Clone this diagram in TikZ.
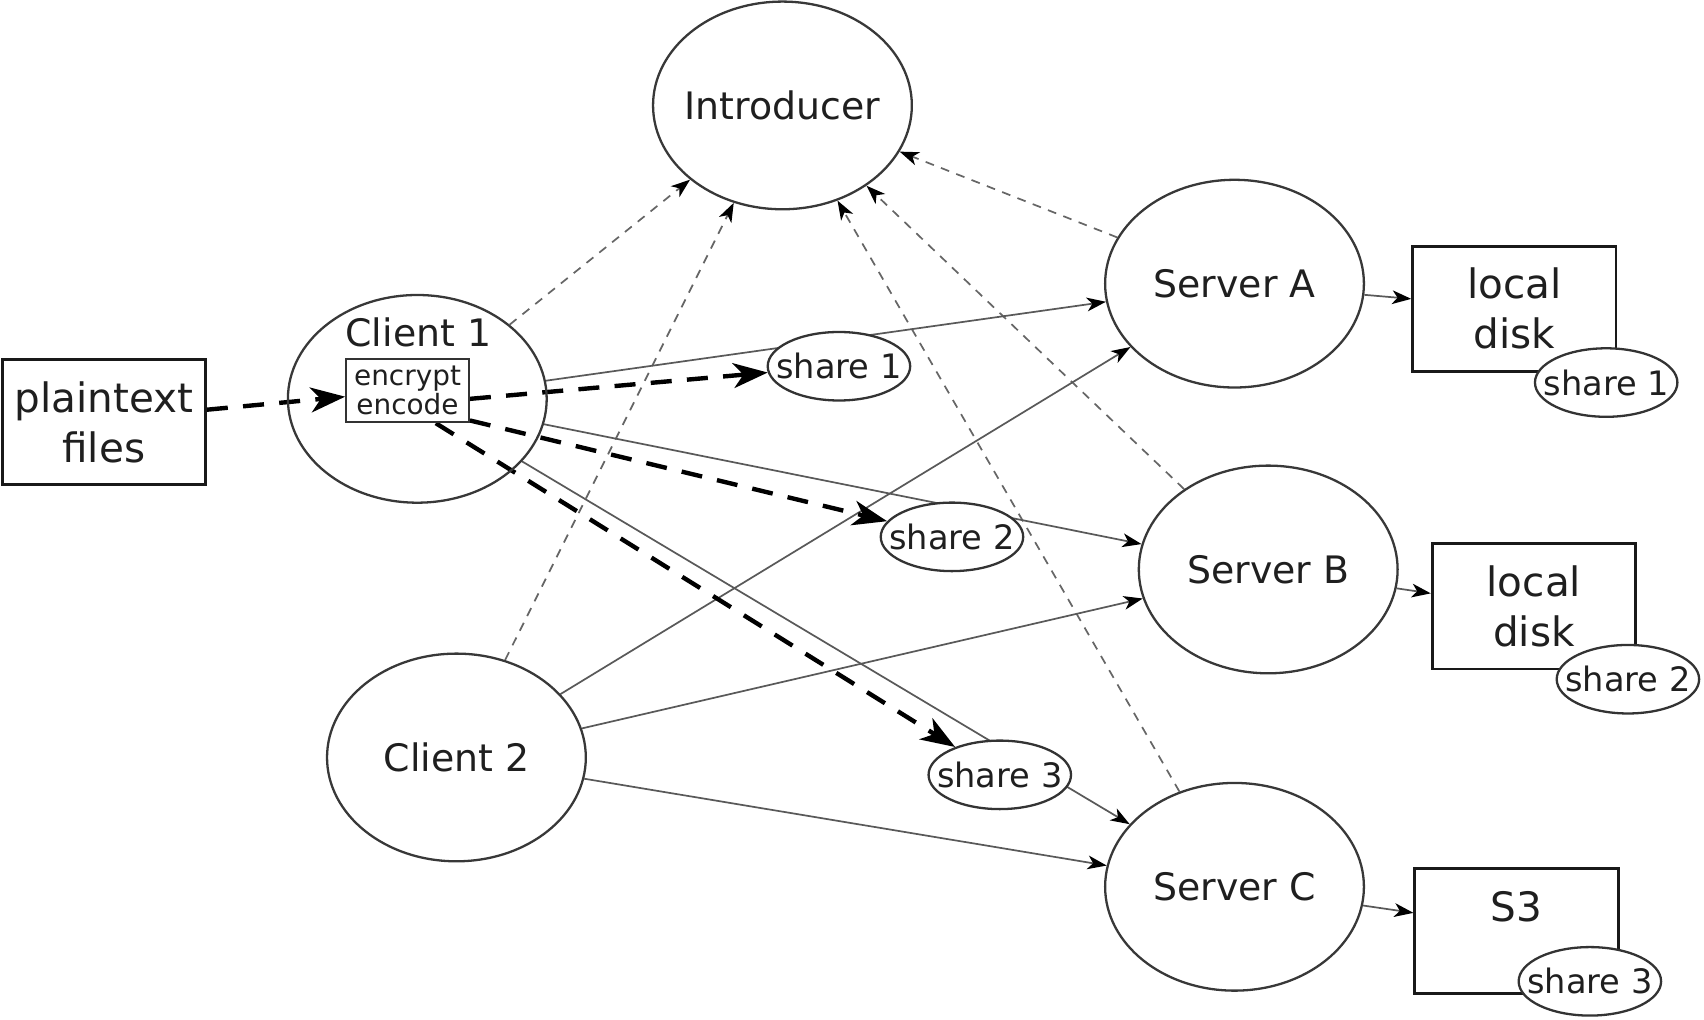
\documentclass[tikz,border=0pt]{standalone}
\usepackage{fontspec}
\setmainfont{DejaVu Sans}
\usetikzlibrary{arrows.meta,shapes.geometric,backgrounds}
\begin{document}
\begin{tikzpicture}[x=0.01cm,y=-0.01cm,
  every node/.style={text=black!88},
  bigell/.style={draw=black!78, line width=0.6pt, ellipse, minimum width=2.38cm, minimum height=1.91cm, inner xsep=-0.1cm, inner ysep=0pt, font=\fontsize{9.9}{12}\selectfont},
  shareell/.style={draw=black!80, line width=0.6pt, ellipse, fill=white, minimum width=1.31cm, minimum height=0.63cm, inner xsep=-0.12cm, inner ysep=0pt, font=\fontsize{8.8}{10}\selectfont},
  store/.style={draw=black!90, line width=0.75pt, rectangle, minimum width=1.87cm, minimum height=1.15cm, inner sep=0pt, align=center, font=\fontsize{10.6}{13}\selectfont},
  encbox/.style={draw=black!80, line width=0.5pt, rectangle, minimum width=1.13cm, minimum height=0.58cm, inner sep=0pt, align=center, font=\fontsize{7.3}{7.5}\selectfont},
  link/.style={draw=black!65, line width=0.45pt, -{Stealth[length=5pt,width=3.6pt,inset=1.4pt,color=black]}},
  intro/.style={draw=black!60, line width=0.45pt, dash pattern=on 2.3pt off 2pt, -{Stealth[length=5pt,width=3.6pt,inset=1.4pt,color=black]}},
  flow/.style={draw=black, line width=1.15pt, dash pattern=on 5.5pt off 4pt, -{Stealth[length=9pt,width=6.5pt,inset=2.6pt]}},
]
\useasboundingbox (0,0) rectangle (1568,938);

% main nodes
\node[bigell] (intr) at (720,97) {Introducer};
\node[bigell] (c1) at (384,367) {};
\node[anchor=base, font=\fontsize{9.9}{12}\selectfont] (c1t) at (385,319) {Client 1};
\node[encbox] (enc) at (375,359.5) {encrypt\\encode};
\node[bigell] (c2) at (420,697) {Client 2};
\node[bigell] (sA) at (1136,261) {Server A};
\node[bigell] (sB) at (1167,524) {Server B};
\node[bigell] (sC) at (1136,816) {Server C};

% storage boxes
\node[store] (pt) at (95.5,388.5) {plaintext\\files};
\node[store] (d1) at (1393.5,284) {local\\disk};
\node[store] (d2) at (1411.5,558) {local\\disk};
\node[store] (s3) at (1395.5,856.5) {S3\\\mbox{}};

% shares
\node[shareell] (r1) at (1478,352) {share 1};
\node[shareell] (r2) at (1498,625) {share 2};
\node[shareell] (r3) at (1463,903) {share 3};
\node[shareell] (m1) at (772,337) {share 1};
\node[shareell] (m2) at (876,494) {share 2};
\node[shareell] (m3) at (920,713) {share 3};

\begin{pgfonlayer}{background}
  % to introducer
  \draw[intro] (c1) -- (intr);
  \draw[intro] (c2) -- (intr);
  \draw[intro] (sA) -- (intr);
  \draw[intro] (sB) -- (intr);
  \draw[intro] (sC) -- (intr);
  % clients to servers
  \draw[link] (c1) -- (sA);
  \draw[link] (c1) -- (sB);
  \draw[link] (c1) -- (sC);
  \draw[link] (c2) -- (sA);
  \draw[link] (c2) -- (sB);
  \draw[link] (c2) -- (sC);
  % servers to storage
  \draw[link] (sA) -- ([yshift=0.09cm]d1.west);
  \draw[link] (sB) -- ([yshift=0.12cm]d2.west);
  \draw[link] (sC) -- ([yshift=0.165cm]s3.west);
  % data flow
  \draw[flow] ([yshift=0.115cm]pt.east) -- ([yshift=-0.055cm]enc.west);
  \draw[flow] ([yshift=-0.075cm]enc.east) -- (m1);
  \draw[flow] ([yshift=0.025cm]enc.south east) -- (m2);
  \draw[flow] ([xshift=0.26cm]enc.south) -- (m3);
\end{pgfonlayer}
\end{tikzpicture}
\end{document}
